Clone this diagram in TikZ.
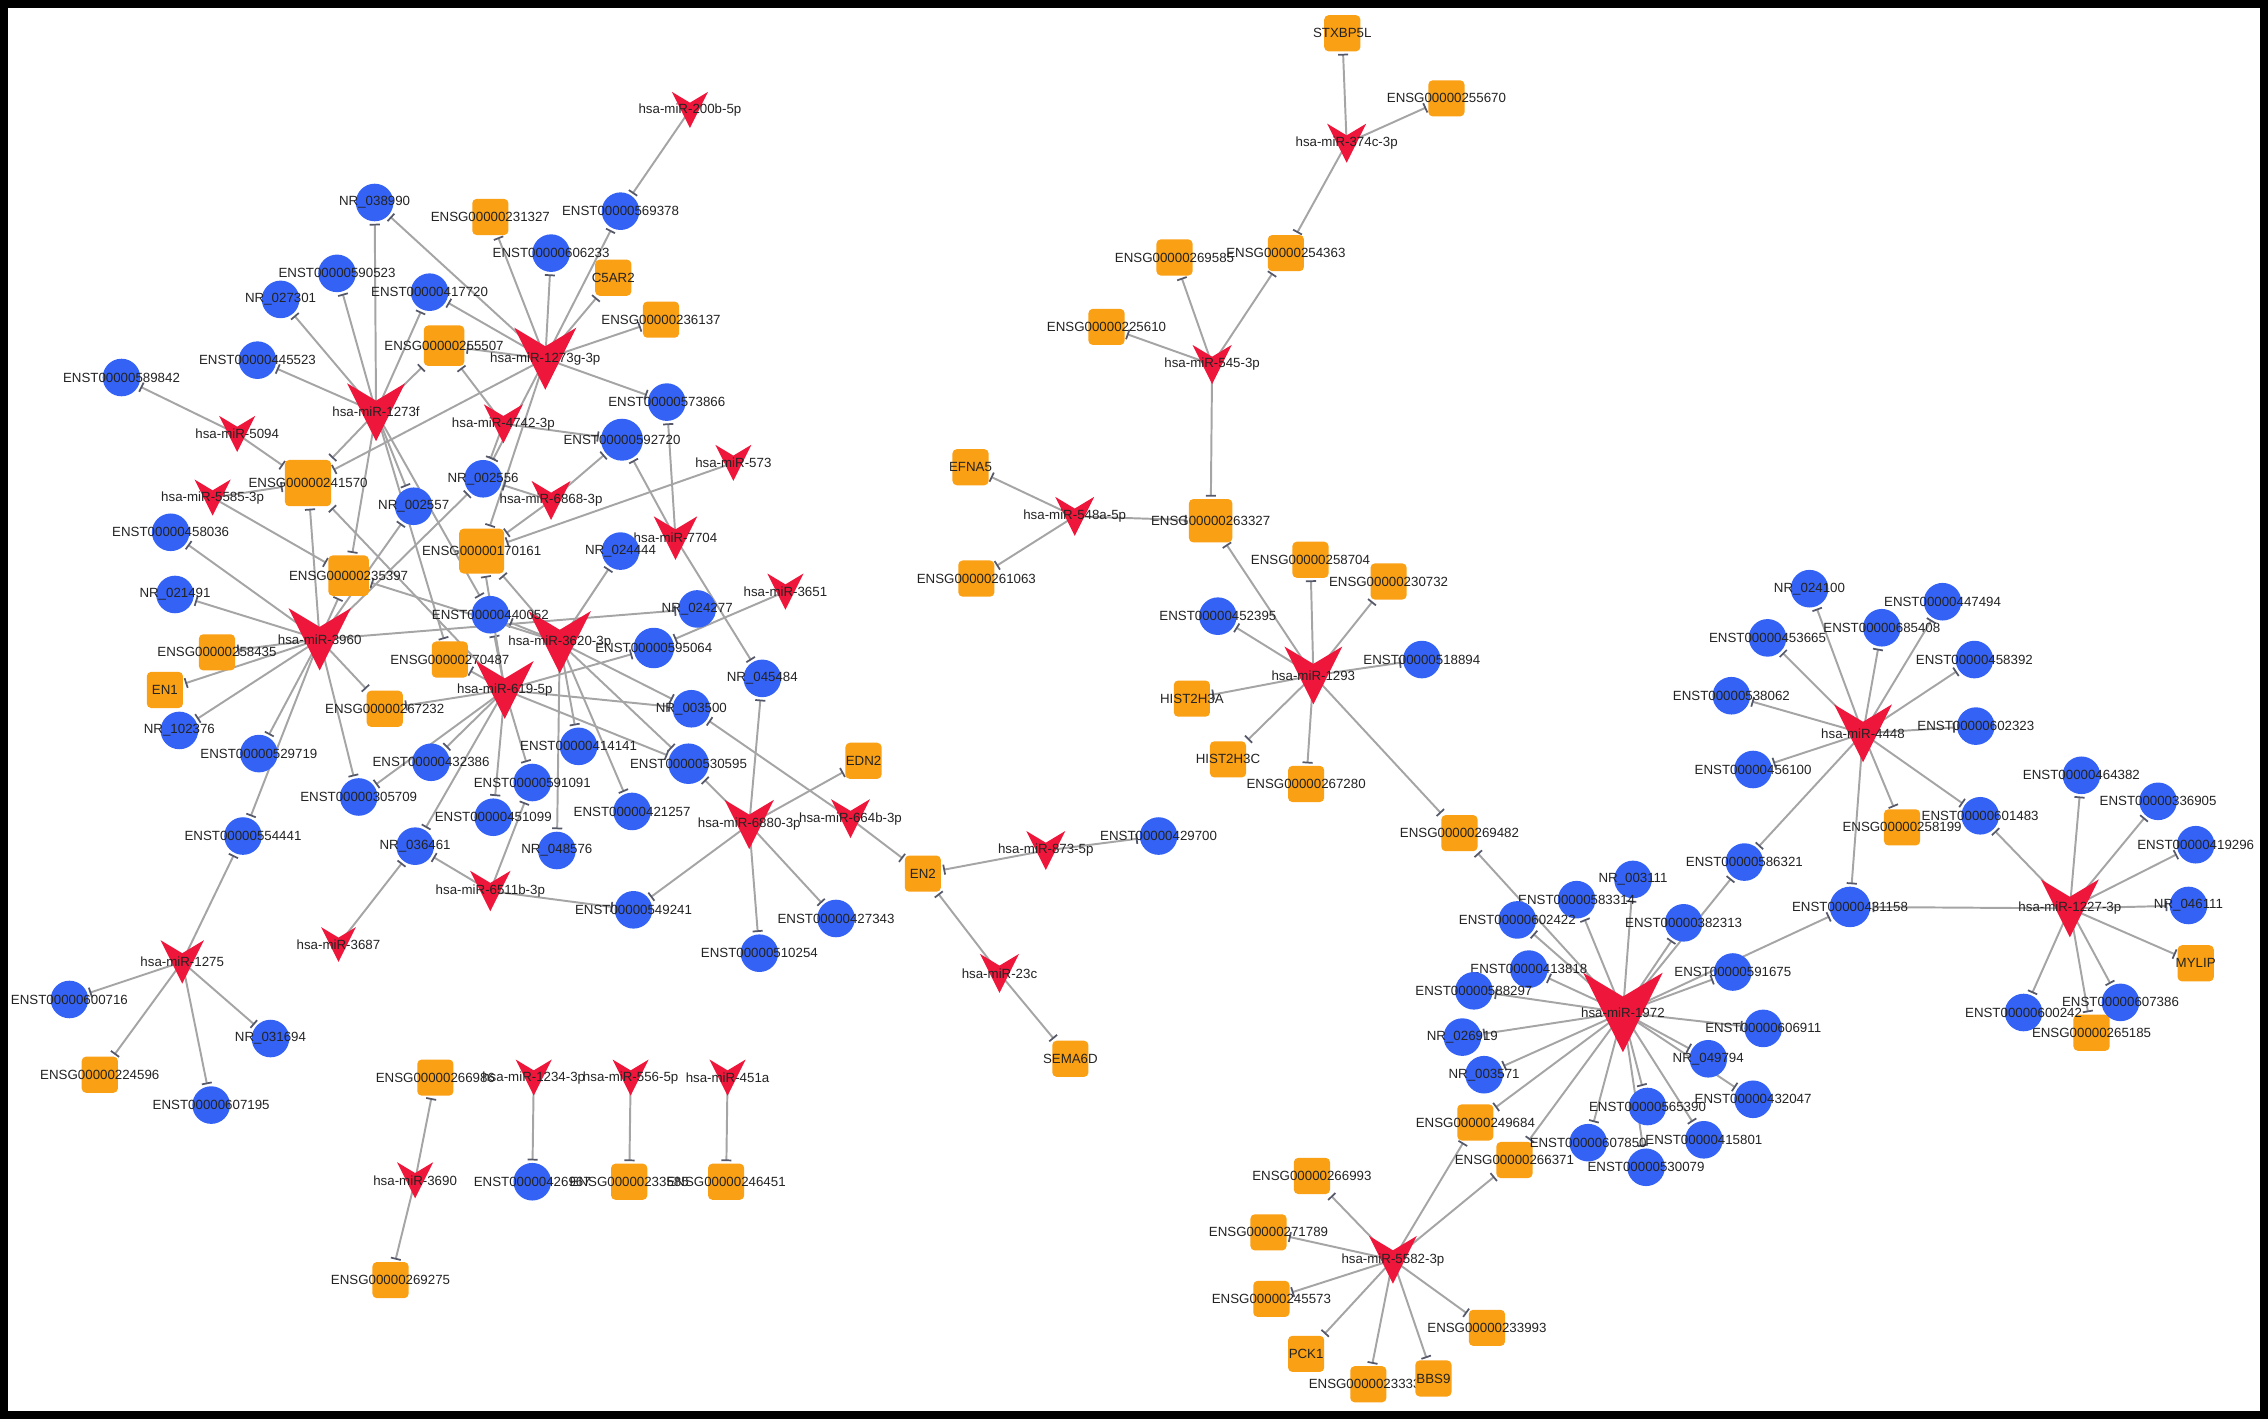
\documentclass[tikz,border=0pt]{standalone}
\usepackage{fontspec}
\setmainfont{Liberation Sans}
\usetikzlibrary{arrows.meta,backgrounds,calc}

\definecolor{mirred}{RGB}{238,22,58}
\definecolor{lncblue}{RGB}{52,98,245}
\definecolor{geneorange}{RGB}{250,160,20}
\definecolor{edgegray}{RGB}{165,165,165}
\definecolor{bargray}{RGB}{85,88,105}
\definecolor{lblgray}{RGB}{35,35,35}

\tikzset{
  lbl/.style={font=\fontsize{9.2}{10}\selectfont, text=lblgray, inner sep=0pt},
  circ/.style={circle, fill=lncblue, minimum size=26pt, inner sep=0pt, label={[lbl]center:#1}},
  sq/.style={rectangle, rounded corners=3pt, fill=geneorange, minimum size=25pt, inner sep=0pt, label={[lbl]center:#1}},
  mir/.style 2 args={rectangle, inner sep=0pt, minimum width=#1pt, minimum height=#1pt,
    path picture={\fill[mirred] (path picture bounding box.north west)
      -- ($(path picture bounding box.north)!0.3!(path picture bounding box.south)$)
      -- (path picture bounding box.north east) -- (path picture bounding box.south) -- cycle;},
    label={[lbl]center:#2}},
  inh/.style={draw=edgegray, line width=1.35pt, shorten >=1.5pt, -{Bar[width=7pt, line width=1.2pt, color=bargray]}}
}

\begin{document}
\begin{tikzpicture}[x=1pt, y=-1pt]
\useasboundingbox (0,0) rectangle (1568,981);

% microRNAs
\node[mir={25}{hsa-miR-200b-5p}] (m200b) at (477,76) {};
\node[mir={43}{hsa-miR-1273g-3p}] (m1273g) at (377,248) {};
\node[mir={40}{hsa-miR-1273f}] (m1273f) at (260,285) {};
\node[mir={25}{hsa-miR-5094}] (m5094) at (164,300) {};
\node[mir={27}{hsa-miR-4742-3p}] (m4742) at (348,293) {};
\node[mir={25}{hsa-miR-573}] (m573) at (507,320) {};
\node[mir={25}{hsa-miR-5585-3p}] (m5585) at (147,344) {};
\node[mir={27}{hsa-miR-6868-3p}] (m6868) at (381,346) {};
\node[mir={30}{hsa-miR-7704}] (m7704) at (467,372) {};
\node[mir={25}{hsa-miR-3651}] (m3651) at (543,409) {};
\node[mir={43}{hsa-miR-3960}] (m3960) at (221,442) {};
\node[mir={43}{hsa-miR-3620-3p}] (m3620) at (387,444) {};
\node[mir={40}{hsa-miR-619-5p}] (m619) at (349,477) {};
\node[mir={34}{hsa-miR-6880-3p}] (m6880) at (518,570) {};
\node[mir={27}{hsa-miR-664b-3p}] (m664b) at (588,566) {};
\node[mir={28}{hsa-miR-6511b-3p}] (m6511b) at (339,616) {};
\node[mir={24}{hsa-miR-3687}] (m3687) at (234,653) {};
\node[mir={30}{hsa-miR-1275}] (m1275) at (126,665) {};
\node[mir={25}{hsa-miR-3690}] (m3690) at (287,816) {};
\node[mir={25}{hsa-miR-1234-3p}] (m1234) at (369,745) {};
\node[mir={25}{hsa-miR-556-5p}] (m556) at (436,745) {};
\node[mir={25}{hsa-miR-451a}] (m451a) at (503,745) {};
\node[mir={27}{hsa-miR-873-5p}] (m873) at (723,588) {};
\node[mir={27}{hsa-miR-23c}] (m23c) at (691,673) {};
\node[mir={27}{hsa-miR-548a-5p}] (m548a) at (743,357) {};
\node[mir={27}{hsa-miR-545-3p}] (m545) at (838,252) {};
\node[mir={27}{hsa-miR-374c-3p}] (m374c) at (931,99) {};
\node[mir={40}{hsa-miR-1293}] (m1293) at (908,467) {};
\node[mir={40}{hsa-miR-4448}] (m4448) at (1288,507) {};
\node[mir={40}{hsa-miR-1227-3p}] (m1227) at (1431,628) {};
\node[mir={55}{hsa-miR-1972}] (m1972) at (1122,700) {};
\node[mir={33}{hsa-miR-5582-3p}] (m5582) at (963,871) {};

% genes
\node[sq=ENSG00000231327] (g231327) at (339,150) {};
\node[sq=C5AR2] (c5ar2) at (424,192) {};
\node[sq=ENSG00000236137] (g236137) at (457,221) {};
\node[sq=ENSG00000255507, minimum size=28pt] (g255507) at (307,239) {};
\node[sq=ENSG00000241570, minimum size=32pt] (g241570) at (213,334) {};
\node[sq=ENSG00000235397, minimum size=28pt] (g235397) at (241,398) {};
\node[sq=ENSG00000170161, minimum size=31pt] (g170161) at (333,381) {};
\node[sq=ENSG00000258435] (g258435) at (150,451) {};
\node[sq=ENSG00000270487] (g270487) at (311,456) {};
\node[sq=EN1] (en1) at (114,477) {};
\node[sq=ENSG00000267232] (g267232) at (266,490) {};
\node[sq=EDN2] (edn2) at (597,526) {};
\node[sq=EN2] (en2) at (638,604) {};
\node[sq=SEMA6D] (sema6d) at (740,732) {};
\node[sq=ENSG00000224596] (g224596) at (69,743) {};
\node[sq=ENSG00000266986] (g266986) at (301,745) {};
\node[sq=ENSG00000269275] (g269275) at (270,885) {};
\node[sq=ENSG00000233585] (g233585) at (435,817) {};
\node[sq=ENSG00000246451] (g246451) at (502,817) {};
\node[sq=STXBP5L] (stxbp5l) at (928,23) {};
\node[sq=ENSG00000255670] (g255670) at (1000,68) {};
\node[sq=ENSG00000269585] (g269585) at (812,178) {};
\node[sq=ENSG00000254363] (g254363) at (889,175) {};
\node[sq=ENSG00000225610] (g225610) at (765,226) {};
\node[sq=EFNA5] (efna5) at (671,323) {};
\node[sq=ENSG00000263327, minimum size=30pt] (g263327) at (837,360) {};
\node[sq=ENSG00000261063] (g261063) at (675,400) {};
\node[sq=ENSG00000258704] (g258704) at (906,387) {};
\node[sq=ENSG00000230732] (g230732) at (960,402) {};
\node[sq=HIST2H3A] (hist2h3a) at (824,483) {};
\node[sq=HIST2H3C] (hist2h3c) at (849,525) {};
\node[sq=ENSG00000267280] (g267280) at (903,542) {};
\node[sq=ENSG00000269482] (g269482) at (1009,576) {};
\node[sq=ENSG00000258199] (g258199) at (1315,572) {};
\node[sq=MYLIP] (mylip) at (1518,666) {};
\node[sq=ENSG00000265185] (g265185) at (1446,714) {};
\node[sq=ENSG00000249684] (g249684) at (1020,776) {};
\node[sq=ENSG00000266371] (g266371) at (1047,802) {};
\node[sq=ENSG00000266993] (g266993) at (907,813) {};
\node[sq=ENSG00000271789] (g271789) at (877,852) {};
\node[sq=ENSG00000245573] (g245573) at (879,898) {};
\node[sq=ENSG00000233993] (g233993) at (1028,918) {};
\node[sq=PCK1] (pck1) at (903,936) {};
\node[sq=ENSG00000233330] (g233330) at (946,957) {};
\node[sq=BBS9] (bbs9) at (991,953) {};

% transcripts
\node[circ=NR\_038990] (n038990) at (259,140) {};
\node[circ=ENST00000569378] (t569378) at (429,146) {};
\node[circ=ENST00000606233] (t606233) at (381,175) {};
\node[circ=ENST00000590523] (t590523) at (233,189) {};
\node[circ=NR\_027301] (n027301) at (194,207) {};
\node[circ=ENST00000417720] (t417720) at (297,202) {};
\node[circ=ENST00000445523] (t445523) at (178,249) {};
\node[circ=ENST00000589842] (t589842) at (84,261) {};
\node[circ=ENST00000573866] (t573866) at (461,278) {};
\node[circ=ENST00000592720, minimum size=29pt] (t592720) at (430,304) {};
\node[circ=NR\_002556] (n002556) at (334,331) {};
\node[circ=NR\_002557] (n002557) at (286,350) {};
\node[circ=ENST00000458036] (t458036) at (118,368) {};
\node[circ=NR\_024444] (n024444) at (429,381) {};
\node[circ=NR\_021491] (n021491) at (121,411) {};
\node[circ=ENST00000440052] (t440052) at (339,425) {};
\node[circ=NR\_024277] (n024277) at (482,421) {};
\node[circ=ENST00000595064, minimum size=28pt] (t595064) at (452,448) {};
\node[circ=NR\_045484] (n045484) at (527,469) {};
\node[circ=NR\_102376] (n102376) at (124,505) {};
\node[circ=NR\_003500] (n003500) at (478,490) {};
\node[circ=ENST00000529719] (t529719) at (179,521) {};
\node[circ=ENST00000414141] (t414141) at (400,516) {};
\node[circ=ENST00000530595, minimum size=28pt] (t530595) at (476,528) {};
\node[circ=ENST00000432386] (t432386) at (298,527) {};
\node[circ=ENST00000591091] (t591091) at (368,541) {};
\node[circ=ENST00000305709] (t305709) at (248,551) {};
\node[circ=ENST00000451099] (t451099) at (341,565) {};
\node[circ=ENST00000421257] (t421257) at (437,561) {};
\node[circ=ENST00000554441] (t554441) at (168,578) {};
\node[circ=NR\_036461] (n036461) at (287,585) {};
\node[circ=NR\_048576] (n048576) at (385,588) {};
\node[circ=ENST00000549241] (t549241) at (438,629) {};
\node[circ=ENST00000510254] (t510254) at (525,659) {};
\node[circ=ENST00000427343] (t427343) at (578,635) {};
\node[circ=ENST00000429700] (t429700) at (801,578) {};
\node[circ=ENST00000600716] (t600716) at (48,691) {};
\node[circ=NR\_031694] (n031694) at (187,718) {};
\node[circ=ENST00000607195] (t607195) at (146,764) {};
\node[circ=ENST00000426967] (t426967) at (368,817) {};
\node[circ=ENST00000452395] (t452395) at (842,426) {};
\node[circ=ENST00000518894] (t518894) at (983,456) {};
\node[circ=NR\_024100] (n024100) at (1251,407) {};
\node[circ=ENST00000447494] (t447494) at (1343,416) {};
\node[circ=ENST00000453665] (t453665) at (1222,441) {};
\node[circ=ENST00000685408] (t685408) at (1301,434) {};
\node[circ=ENST00000458392] (t458392) at (1365,456) {};
\node[circ=ENST00000538062] (t538062) at (1197,481) {};
\node[circ=ENST00000602323] (t602323) at (1366,502) {};
\node[circ=ENST00000456100] (t456100) at (1212,532) {};
\node[circ=ENST00000601483] (t601483) at (1369,564) {};
\node[circ=ENST00000464382] (t464382) at (1439,536) {};
\node[circ=ENST00000336905] (t336905) at (1492,554) {};
\node[circ=ENST00000419296] (t419296) at (1518,584) {};
\node[circ=ENST00000586321] (t586321) at (1206,596) {};
\node[circ=ENST00000431158, minimum size=28pt] (t431158) at (1279,627) {};
\node[circ=NR\_046111] (n046111) at (1513,626) {};
\node[circ=ENST00000600242] (t600242) at (1399,700) {};
\node[circ=ENST00000607386] (t607386) at (1466,693) {};
\node[circ=NR\_003111] (n003111) at (1129,608) {};
\node[circ=ENST00000583314] (t583314) at (1090,622) {};
\node[circ=ENST00000602422] (t602422) at (1049,636) {};
\node[circ=ENST00000382313] (t382313) at (1164,638) {};
\node[circ=ENST00000413818] (t413818) at (1057,670) {};
\node[circ=ENST00000588297] (t588297) at (1019,685) {};
\node[circ=ENST00000591675] (t591675) at (1198,672) {};
\node[circ=ENST00000606911] (t606911) at (1219,711) {};
\node[circ=NR\_026919] (n026919) at (1011,717) {};
\node[circ=NR\_049794] (n049794) at (1181,732) {};
\node[circ=NR\_003571] (n003571) at (1026,743) {};
\node[circ=ENST00000565390] (t565390) at (1139,765) {};
\node[circ=ENST00000432047] (t432047) at (1212,760) {};
\node[circ=ENST00000607850] (t607850) at (1098,790) {};
\node[circ=ENST00000415801] (t415801) at (1178,788) {};
\node[circ=ENST00000530079] (t530079) at (1138,807) {};

% interactions
\begin{scope}[on background layer]
\draw[inh] (m200b.center) -- (t569378);
\foreach \t in {n038990,g231327,t606233,t569378,c5ar2,g236137,t417720,g255507,t573866,g241570,n002556,g170161}
  \draw[inh] (m1273g.center) -- (\t);
\foreach \t in {n038990,t590523,n027301,t445523,t417720,g255507,g241570,g235397,n002557,t440052,g270487}
  \draw[inh] (m1273f.center) -- (\t);
\foreach \t in {t589842,g241570} \draw[inh] (m5094.center) -- (\t);
\foreach \t in {g241570,g235397} \draw[inh] (m5585.center) -- (\t);
\foreach \t in {g255507,n002556,t592720} \draw[inh] (m4742.center) -- (\t);
\draw[inh] (m573.center) -- (g170161);
\foreach \t in {n002556,g170161,t592720} \draw[inh] (m6868.center) -- (\t);
\foreach \t in {t573866,t592720,n045484} \draw[inh] (m7704.center) -- (\t);
\draw[inh] (m3651.center) -- (t595064);
\foreach \t in {t458036,n021491,g258435,en1,n102376,t529719,t554441,t305709,g267232,g235397,g241570,n024277,n002557,n002556}
  \draw[inh] (m3960.center) -- (\t);
\foreach \t in {n024444,g170161,t440052,n003500,t530595,t421257,t414141,n048576,g235397}
  \draw[inh] (m3620.center) -- (\t);
\foreach \t in {g267232,t432386,t591091,t451099,n036461,t595064,n003500,t530595,t440052,g170161,g270487,t305709,g241570}
  \draw[inh] (m619.center) -- (\t);
\foreach \t in {t549241,t510254,t427343,n045484,t530595,edn2} \draw[inh] (m6880.center) -- (\t);
\foreach \t in {n003500,en2} \draw[inh] (m664b.center) -- (\t);
\foreach \t in {t549241,n036461,t591091} \draw[inh] (m6511b.center) -- (\t);
\draw[inh] (m3687.center) -- (n036461);
\foreach \t in {t554441,t600716,g224596,t607195,n031694} \draw[inh] (m1275.center) -- (\t);
\foreach \t in {g266986,g269275} \draw[inh] (m3690.center) -- (\t);
\draw[inh] (m1234.center) -- (t426967);
\draw[inh] (m556.center) -- (g233585);
\draw[inh] (m451a.center) -- (g246451);
\foreach \t in {en2,t429700} \draw[inh] (m873.center) -- (\t);
\foreach \t in {en2,sema6d} \draw[inh] (m23c.center) -- (\t);
\foreach \t in {efna5,g261063,g263327} \draw[inh] (m548a.center) -- (\t);
\foreach \t in {g225610,g269585,g254363,g263327} \draw[inh] (m545.center) -- (\t);
\foreach \t in {stxbp5l,g255670,g254363} \draw[inh] (m374c.center) -- (\t);
\foreach \t in {g263327,g258704,g230732,t452395,t518894,hist2h3a,hist2h3c,g267280,g269482}
  \draw[inh] (m1293.center) -- (\t);
\foreach \t in {n024100,t453665,t685408,t447494,t458392,t538062,t602323,t456100,g258199,t601483,t586321,t431158}
  \draw[inh] (m4448.center) -- (\t);
\foreach \t in {t431158,t601483,t464382,t336905,t419296,n046111,mylip,t607386,g265185,t600242}
  \draw[inh] (m1227.center) -- (\t);
\foreach \t in {g269482,n003111,t583314,t602422,t382313,t413818,t588297,t591675,t606911,n026919,n049794,n003571,t565390,t432047,g249684,t607850,t415801,t530079,g266371,t586321,t431158}
  \draw[inh] (m1972.center) -- (\t);
\foreach \t in {g249684,g266371,g266993,g271789,g245573,pck1,g233330,bbs9,g233993}
  \draw[inh] (m5582.center) -- (\t);
\end{scope}

% frame
\draw[line width=5.5pt] (2.75,2.75) rectangle (1565.25,978.25);
\end{tikzpicture}
\end{document}
